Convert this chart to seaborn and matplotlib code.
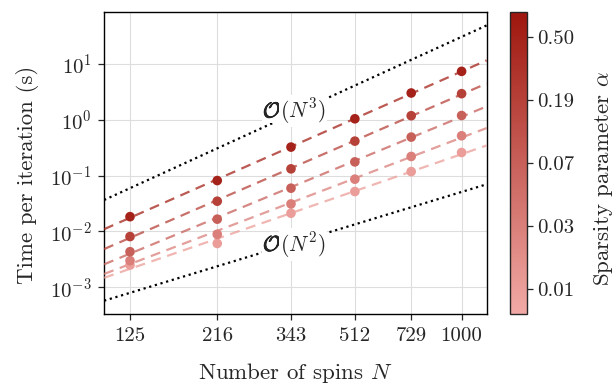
import numpy as np
import pandas as pd
import seaborn as sns
import matplotlib.pyplot as plt
from matplotlib.colors import LinearSegmentedColormap, LogNorm
from matplotlib.cm import ScalarMappable
from matplotlib.ticker import FixedLocator, FixedFormatter, NullLocator
import matplotlib.patheffects as pe

sns.set_style("ticks")
plt.rcParams.update({
    "font.family": "serif",
    "font.serif": ["cmr10"],
    "mathtext.fontset": "cm",
    "axes.formatter.use_mathtext": True,
    "font.size": 14,
})

# data
spins = [125, 216, 343, 512, 729, 1000]
alphas = [0.0092, 0.0249, 0.0677, 0.184, 0.50]
times_a001 = [0.0025, 0.0061, 0.0212, 0.0518, 0.118, 0.259]
times_a003 = [0.0030, 0.0089, 0.0311, 0.0863, 0.220, 0.516]
times_a007 = [0.00434, 0.0166, 0.0595, 0.176, 0.489, 1.19]
times_a019 = [0.0081, 0.0348, 0.132, 0.414, 1.18, 2.93]
times_a050 = [0.0184, 0.0815, 0.324, 1.04, 3.01, 7.35]
times = [times_a001, times_a003, times_a007, times_a019, times_a050]
cbar_labels = ["0.01", "0.03", "0.07", "0.19", "0.50"]

# reference scaling prefactors
c_n3 = 3.05e-8
c_n2 = 5.1e-8

cmap = LinearSegmentedColormap.from_list("sparse", ["#f2aaa6", "#9e160d"])
norm = LogNorm(vmin=alphas[0] * np.exp(-0.4), vmax=alphas[-1] * np.exp(0.4))

fig = plt.figure(figsize=(6.16, 3.86), dpi=100)
ax = fig.add_axes([0.169, 0.186, 0.621, 0.783])
cax = fig.add_axes([0.828, 0.186, 0.028, 0.783])

xlim = (spins[0] * 0.85, spins[-1] * 1.17)
xx = np.geomspace(xlim[0], xlim[1], 50)

for a, t in zip(alphas, times):
    col = cmap(norm(a))
    slope, icpt = np.polyfit(np.log10(spins), np.log10(t), 1)
    fit = pd.DataFrame({"N": xx, "t": 10 ** (icpt + slope * np.log10(xx))})
    sns.lineplot(data=fit, x="N", y="t", ax=ax, color=col, lw=1.6,
                 linestyle=(0, (4.5, 3)), alpha=0.75, zorder=3)
    df = pd.DataFrame({"N": spins, "t": t})
    sns.scatterplot(data=df, x="N", y="t", ax=ax, color=col, s=48,
                    edgecolor="none", zorder=4)

ax.plot(xx, c_n3 * xx ** 3, color="black", ls=":", lw=1.6, zorder=2)
ax.plot(xx, c_n2 * xx ** 2, color="black", ls=":", lw=1.6, zorder=2)

ax.set_xscale("log")
ax.set_yscale("log")
ax.set_xlim(*xlim)
ax.set_ylim(3.3e-4, 85)
ax.xaxis.set_major_locator(FixedLocator(spins))
ax.xaxis.set_major_formatter(FixedFormatter([str(s) for s in spins]))
ax.xaxis.set_minor_locator(NullLocator())
ax.yaxis.set_minor_locator(NullLocator())
ax.grid(True, color="#dddddd", lw=0.8, zorder=0)
ax.set_axisbelow(True)
for sp in ax.spines.values():
    sp.set_color("black")
    sp.set_linewidth(1.0)
ax.tick_params(direction="out", length=4, width=0.9, labelsize=15, pad=5)

# scaling labels: white box cuts the dotted lines, O a bit heavier
bbox = dict(facecolor="white", edgecolor="none", pad=1.0)
for lab, yv in [(r"$(N^3)$", 10 ** 0.04), (r"$(N^2)$", 10 ** -2.35)]:
    ax.annotate(r"$\mathcal{O}$", xy=(322, yv), xytext=(0.5, 0),
                textcoords="offset points", ha="right", va="baseline",
                fontsize=15.5, bbox=bbox, zorder=5,
                path_effects=[pe.withStroke(linewidth=0.5, foreground="black")])
    ax.annotate(lab, xy=(322, yv), xytext=(-0.5, 0),
                textcoords="offset points", ha="left", va="baseline",
                fontsize=15.5, bbox=bbox, zorder=5)

ax.set_xlabel(r"Number of spins $N$", fontsize=16.5, labelpad=12)
ax.set_ylabel("Time per iteration (s)", fontsize=16.5, labelpad=8)
ax.yaxis.label.set_y(0.46)

sm = ScalarMappable(norm=norm, cmap=cmap)
cb = fig.colorbar(sm, cax=cax)
cb.ax.yaxis.set_major_locator(FixedLocator(alphas))
cb.ax.yaxis.set_major_formatter(FixedFormatter(cbar_labels))
cb.ax.yaxis.set_minor_locator(NullLocator())
cb.ax.tick_params(labelsize=15, length=4, width=0.9, pad=3)
cb.outline.set_linewidth(1.0)
cb.set_label(r"Sparsity parameter $\alpha$", fontsize=16.5, labelpad=13)
cb.ax.yaxis.label.set_y(0.45)

fig.savefig("out.png", dpi=100)
